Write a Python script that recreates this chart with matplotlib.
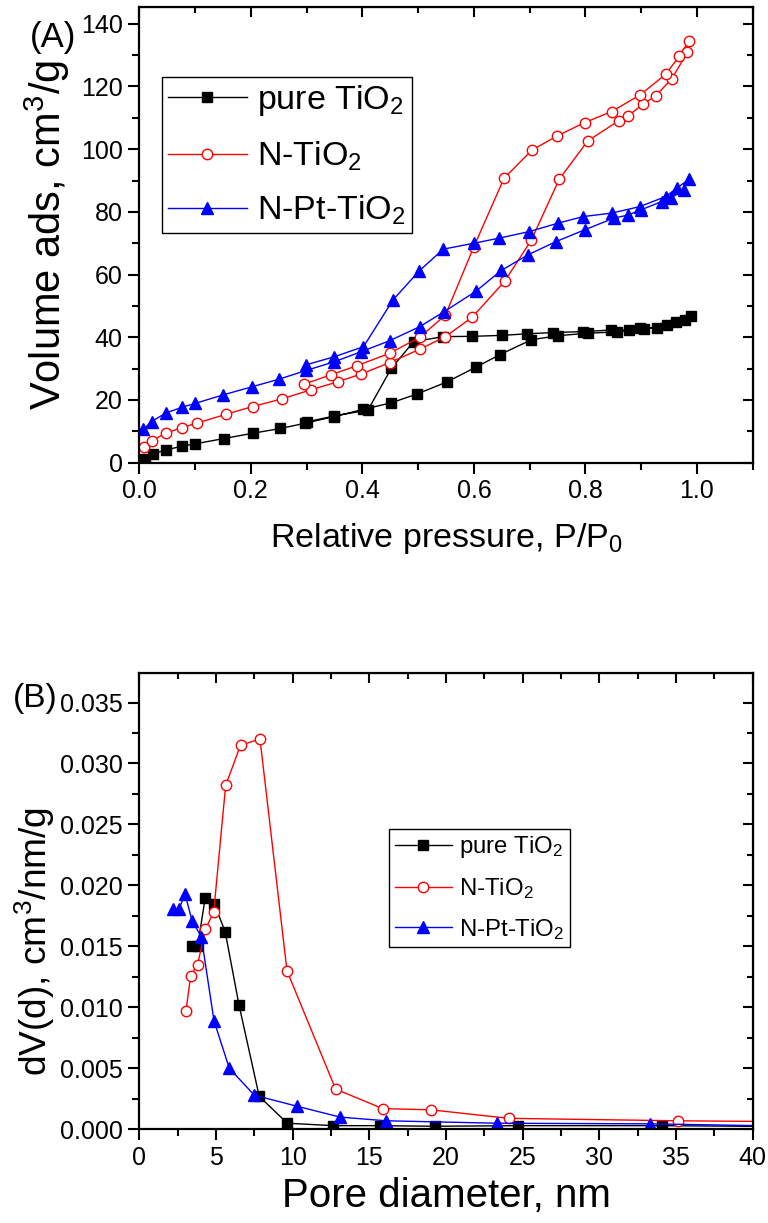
import matplotlib
matplotlib.use('Agg')
import matplotlib.pyplot as plt
from matplotlib.ticker import MultipleLocator, FormatStrFormatter

plt.rcParams['font.family'] = ['Liberation Sans', 'DejaVu Sans']
plt.rcParams['mathtext.fontset'] = 'custom'
plt.rcParams['mathtext.rm'] = 'Liberation Sans'
plt.rcParams['mathtext.default'] = 'regular'

# (A) N2 isotherms: adsorption then desorption branch
pure_ads_x = [0.003, 0.010, 0.024, 0.047, 0.077, 0.100, 0.152, 0.204, 0.253, 0.298, 0.349, 0.402,
              0.452, 0.498, 0.551, 0.603, 0.646, 0.703, 0.751, 0.804, 0.856, 0.905, 0.947, 0.978, 0.990]
pure_ads_y = [0.5, 1.2, 2.8, 4.0, 5.3, 6.0, 7.7, 9.4, 10.9, 12.6, 14.7, 17.0,
              19.1, 21.9, 25.7, 30.4, 34.4, 39.2, 40.5, 41.3, 41.7, 42.6, 43.8, 45.5, 46.9]
pure_des_x = [0.962, 0.928, 0.898, 0.878, 0.845, 0.795, 0.741, 0.695, 0.651, 0.597, 0.545,
              0.492, 0.452, 0.410, 0.350, 0.300]
pure_des_y = [45.0, 43.1, 43.0, 42.3, 42.3, 41.8, 41.5, 41.1, 40.6, 40.3, 40.2,
              38.6, 30.1, 16.8, 14.9, 13.0]

n_ads_x = [0.008, 0.022, 0.047, 0.077, 0.103, 0.155, 0.203, 0.255, 0.307, 0.356, 0.398, 0.449,
           0.503, 0.549, 0.597, 0.655, 0.703, 0.753, 0.804, 0.860, 0.877, 0.904, 0.926, 0.955,
           0.983, 0.986]
n_ads_y = [5.1, 6.9, 9.4, 11.2, 12.6, 15.4, 17.9, 20.3, 23.2, 25.8, 28.3, 31.9,
           36.2, 40.2, 46.4, 57.8, 71.0, 90.4, 102.6, 109.1, 110.7, 114.4, 117.0, 122.5,
           130.9, 134.6]
n_des_x = [0.968, 0.944, 0.898, 0.847, 0.799, 0.749, 0.704, 0.654, 0.600, 0.549, 0.503,
           0.449, 0.390, 0.343, 0.295]
n_des_y = [129.6, 123.9, 117.3, 112.0, 108.5, 104.2, 99.7, 90.7, 68.9, 47.1, 40.0,
           34.9, 30.9, 28.0, 25.0]

npt_ads_x = [0.007, 0.022, 0.047, 0.077, 0.100, 0.150, 0.202, 0.250, 0.299, 0.350, 0.398, 0.449,
             0.503, 0.547, 0.603, 0.649, 0.697, 0.747, 0.799, 0.851, 0.877, 0.899, 0.937, 0.953,
             0.976, 0.986]
npt_ads_y = [10.6, 13.1, 15.8, 17.7, 18.9, 21.6, 24.2, 26.6, 29.4, 32.2, 35.4, 38.9,
             43.4, 48.2, 54.6, 61.3, 66.3, 70.5, 74.3, 78.0, 79.0, 80.6, 83.3, 84.4,
             87.0, 90.4]
npt_des_x = [0.964, 0.944, 0.898, 0.847, 0.796, 0.751, 0.699, 0.645, 0.600, 0.545, 0.501,
             0.455, 0.402, 0.350, 0.299]
npt_des_y = [87.6, 84.9, 81.7, 79.6, 78.5, 76.4, 73.7, 71.6, 70.0, 68.1, 61.0,
             51.9, 37.0, 33.8, 31.2]

# (B) pore size distribution
pure_psd_x = [3.44, 3.8, 4.3, 4.89, 5.6, 6.5, 7.82, 9.65, 12.65, 15.7, 19.3, 24.7, 34.1, 45.0]
pure_psd_y = [0.0150, 0.0150, 0.0190, 0.0185, 0.0162, 0.0102, 0.0027, 0.0005, 0.0003,
              0.0003, 0.00025, 0.0003, 0.0003, 0.0002]
n_psd_x = [3.04, 3.35, 3.8, 4.3, 4.85, 5.63, 6.6, 7.87, 9.63, 12.8, 15.87, 19.0, 24.1, 35.1, 45.0]
n_psd_y = [0.0097, 0.0126, 0.0135, 0.0164, 0.0178, 0.0282, 0.0315, 0.0320, 0.0130, 0.0033,
           0.0017, 0.0016, 0.0009, 0.0007, 0.0006]
npt_psd_x = [2.22, 2.6, 2.98, 3.44, 4.04, 4.87, 5.87, 7.5, 10.26, 13.1, 16.1, 23.3, 33.3, 45.0]
npt_psd_y = [0.0181, 0.0181, 0.0193, 0.0171, 0.0158, 0.0089, 0.0050, 0.0028, 0.0019, 0.0010,
             0.0007, 0.0005, 0.00045, 0.0002]

labels = ['pure TiO$_2$', 'N-TiO$_2$', 'N-Pt-TiO$_2$']
styles = [dict(color='black', marker='s', mfc='black', mec='black', ms=6.5),
          dict(color='red', marker='o', mfc='white', mec='red', ms=7.5, mew=1.0),
          dict(color='blue', marker='^', mfc='blue', mec='blue', ms=8)]

fig = plt.figure(figsize=(7.68, 12.23), dpi=100)
ax1 = fig.add_axes([0.1814, 0.6217, 0.7987, 0.3722])
ax2 = fig.add_axes([0.1814, 0.0766, 0.7987, 0.3729])

iso = [(pure_ads_x + pure_des_x, pure_ads_y + pure_des_y),
       (n_ads_x + n_des_x, n_ads_y + n_des_y),
       (npt_ads_x + npt_des_x, npt_ads_y + npt_des_y)]
for (x, y), lab, st in zip(iso, labels, styles):
    ax1.plot(x, y, lw=1.0, label=lab, **st)

psd = [(pure_psd_x, pure_psd_y), (n_psd_x, n_psd_y), (npt_psd_x, npt_psd_y)]
for (x, y), lab, st in zip(psd, labels, styles):
    ax2.plot(x, y, lw=1.0, label=lab, **st)

ax1.set_xlim(0, 1.1)
ax1.set_ylim(0, 145.2)
ax1.xaxis.set_major_locator(MultipleLocator(0.2))
ax1.xaxis.set_minor_locator(MultipleLocator(0.1))
ax1.xaxis.set_major_formatter(FormatStrFormatter('%.1f'))
ax1.yaxis.set_major_locator(MultipleLocator(20))
ax1.yaxis.set_minor_locator(MultipleLocator(10))

ax2.set_xlim(0, 40)
ax2.set_ylim(0, 0.0374)
ax2.xaxis.set_major_locator(MultipleLocator(5))
ax2.xaxis.set_minor_locator(MultipleLocator(2.5))
ax2.yaxis.set_major_locator(MultipleLocator(0.005))
ax2.yaxis.set_minor_locator(MultipleLocator(0.0025))
ax2.yaxis.set_major_formatter(FormatStrFormatter('%.3f'))

for ax in (ax1, ax2):
    for s in ax.spines.values():
        s.set_linewidth(1.6)
    ax.tick_params(which='both', direction='out', width=1.5, labelsize=18, pad=4)
    ax.tick_params(which='major', length=8)
    ax.tick_params(which='minor', length=5)
    sec_x = ax.secondary_xaxis('top')
    sec_y = ax.secondary_yaxis('right')
    for sec in (sec_x, sec_y):
        sec.tick_params(which='both', direction='in', width=1.5, labelsize=0)
        sec.tick_params(which='major', length=7)
        sec.tick_params(which='minor', length=4)
    sec_x.xaxis.set_major_locator(ax.xaxis.get_major_locator())
    sec_x.xaxis.set_minor_locator(ax.xaxis.get_minor_locator())
    sec_y.yaxis.set_major_locator(ax.yaxis.get_major_locator())
    sec_y.yaxis.set_minor_locator(ax.yaxis.get_minor_locator())
    sec_x.set_xticklabels([])
    sec_y.set_yticklabels([])

ax1.set_xlabel('Relative pressure, P/P$_0$', fontsize=24.5)
ax1.set_ylabel('Volume ads, cm$^3$/g', fontsize=30)
ax1.xaxis.set_label_coords(0.5, -0.128)
ax1.yaxis.set_label_coords(-0.11, 0.5)

ax2.set_xlabel('Pore diameter, nm', fontsize=29)
ax2.set_ylabel('dV(d), cm$^3$/nm/g', fontsize=26.7)
ax2.xaxis.set_label_coords(0.5, -0.104)
ax2.yaxis.set_label_coords(-0.134, 0.411)

leg1 = ax1.legend(loc='upper left', bbox_to_anchor=(0.0365, 0.8467), borderaxespad=0,
                  fontsize=24.5, numpoints=1, handlelength=2.33, handletextpad=0.3,
                  borderpad=0.18, labelspacing=0.62, fancybox=False, framealpha=1)
leg1.get_frame().set_edgecolor('black')
leg1.get_frame().set_linewidth(1.0)

leg2 = ax2.legend(loc='upper left', bbox_to_anchor=(0.4076, 0.6586), borderaxespad=0,
                  fontsize=17.3, numpoints=1, handlelength=2.37, handletextpad=0.33,
                  borderpad=0.22, labelspacing=0.66, fancybox=False, framealpha=1)
leg2.get_frame().set_edgecolor('black')
leg2.get_frame().set_linewidth(1.0)

fig.text(30 / 768, 1 - 38 / 1223, '(A)', fontsize=25, ha='left', va='center')
fig.text(13 / 768, 1 - 698 / 1223, '(B)', fontsize=24, ha='left', va='center')

fig.savefig('out.png', dpi=100)
